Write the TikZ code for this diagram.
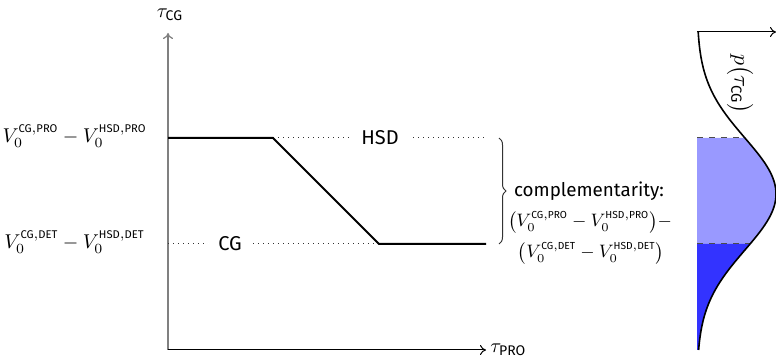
\documentclass[tikz,border=0pt]{standalone}
\usepackage{amsmath}
\usepackage[no-math]{fontspec}
\setmainfont{Fira Sans}
\setsansfont{Fira Sans}
\usetikzlibrary{decorations.pathreplacing,arrows.meta}
\definecolor{lightfill}{HTML}{9999FF}
\definecolor{darkfill}{HTML}{3333FF}
\newcommand{\spsize}{5.6}
\newcommand{\sps}[1]{\text{\fontsize{\spsize}{6}\selectfont #1}}
\newcommand{\VVal}[2]{V_0^{\sps{#1},\sps{#2}}}
\tikzset{
  yaxis/.style={draw=gray, line width=0.6pt, -{To[length=3pt,width=5pt]}},
  xaxis/.style={draw=black, line width=0.5pt, -{To[length=3pt,width=5pt]}},
  mainline/.style={draw=black, line width=1pt},
  guide/.style={draw=black!80, dotted, line width=0.5pt},
  curvelabel/.style={fill=white, inner xsep=5pt, inner ysep=1pt},
  vlabel/.style={inner sep=1pt},
  comptext/.style={inner sep=1pt, font=\fontsize{9.4}{11}\selectfont},
  compmath/.style={inner sep=1pt, font=\fontsize{8.6}{10}\selectfont\renewcommand{\spsize}{5.1}},
  cutline/.style={draw=black!70, dashed, line width=0.5pt},
  pdfcurve/.style={draw=black, line width=0.8pt},
}
\begin{document}
\begin{tikzpicture}[x=0.5pt,y=-0.5pt]
\useasboundingbox (0,0) rectangle (776,357);
% axes
\coordinate (origin) at (168,350);
\coordinate (ytop) at (168,33);
\coordinate (xend) at (486,350);
\draw[yaxis] (origin) -- (ytop);
\draw[xaxis] (origin) -- (xend);
\node[anchor=south] (ylab) at (170,28) {$\tau_{\text{CG}}$};
\node[anchor=west, inner sep=2pt] (xlab) at (xend) {$\tau_{\text{PRO}}$};
% guides
\coordinate (hsdA) at (273,138);
\coordinate (hsdB) at (486,138);
\coordinate (cgA) at (168,244);
\coordinate (cgB) at (379,244);
\draw[guide] (hsdA) -- (hsdB);
\draw[guide] (cgA) -- (cgB);
\node[curvelabel] (hsd) at (380,138) {HSD};
\node[curvelabel] (cg) at (230,244) {CG};
% main curve
\coordinate (p0) at (168,138);
\coordinate (p3) at (486,244);
\draw[mainline] (p0) -- (hsdA) -- (cgB) -- (p3);
% left labels
\node[vlabel, anchor=east] (lpro) at (149,136) {$\VVal{CG}{PRO} - \VVal{HSD}{PRO}$};
\node[vlabel, anchor=east] (ldet) at (147,242) {$\VVal{CG}{DET} - \VVal{HSD}{DET}$};
% brace
\coordinate (brA) at (499,138);
\coordinate (brB) at (499,244);
\draw[decorate, decoration={brace, amplitude=3.5pt}, line width=0.5pt, black!80] (brA) -- (brB);
\node[comptext] (comp1) at (589,191) {complementarity:};
\node[compmath] (comp2) at (590,222) {$\bigl(\VVal{CG}{PRO} - \VVal{HSD}{PRO}\bigr) -$};
\node[compmath] (comp3) at (591,253) {$\bigl(\VVal{CG}{DET} - \VVal{HSD}{DET}\bigr)$};
% distribution
\coordinate (dtop) at (697,32);
\coordinate (dright) at (776,32);
\fill[lightfill] (697,138) -- plot[domain=138:244, samples=60, variable=\t] ({697+79*exp(-((\t-194)/56)*((\t-194)/56)/2)}, {\t}) -- (697,244) -- cycle;
\fill[darkfill] (697,244) -- plot[domain=244:350, samples=60, variable=\t] ({697+79*exp(-((\t-194)/56)*((\t-194)/56)/2)}, {\t}) -- (697,350) -- cycle;
\draw[cutline] (697,138) -- ({697+79*exp(-(56/56)*(56/56)/2)},138);
\draw[cutline] (697,244) -- ({697+79*exp(-(50/56)*(50/56)/2)},244);
\draw[pdfcurve] plot[domain=32:350, samples=150, variable=\t] ({697+79*exp(-((\t-194)/56)*((\t-194)/56)/2)}, {\t});
\draw[line width=0.5pt, -{To[length=3pt,width=5pt]}] (dtop) -- (dright);
\node[rotate=-90, font=\fontsize{10.5}{12}\selectfont] (plab) at (740,84) {$p\bigl(\tau_{\text{CG}}\bigr)$};
\end{tikzpicture}
\end{document}
